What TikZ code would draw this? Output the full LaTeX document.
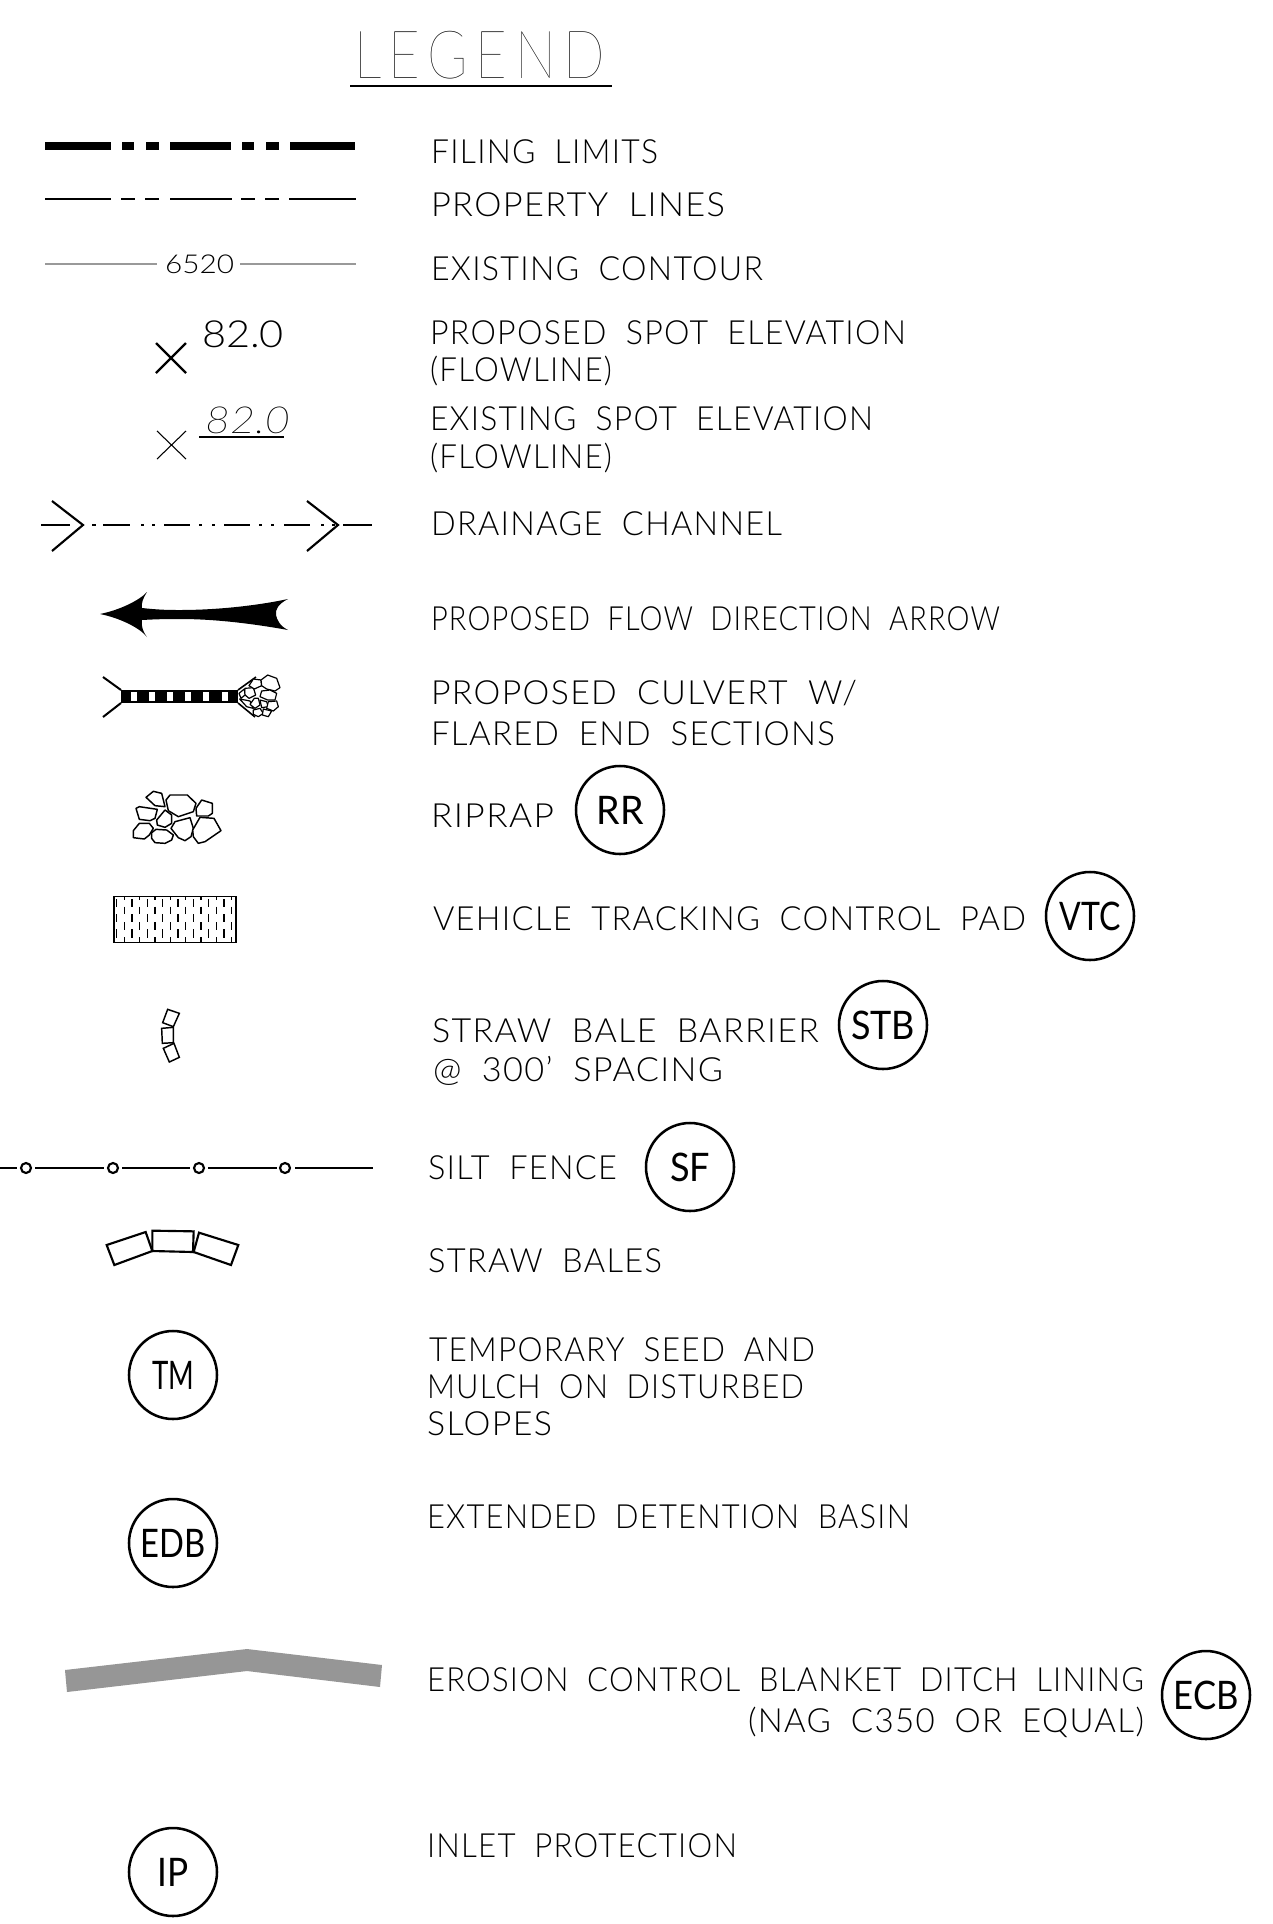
\documentclass[tikz,border=0pt]{standalone}
\usepackage{fontspec}
\usepackage{graphicx}
\setmainfont[LetterSpace=4]{Lato Light}
\newfontfamily\legfont[LetterSpace=14]{Lato Thin}
\newfontfamily\circfont{Lato}
\newfontfamily\numfont{Lato Light}
\newfontfamily\numitfont[ItalicFont={Lato Thin Italic}]{Lato Thin}
\newsavebox\lblbox
\newcommand\lblfit[3]{% width(px), font, text
  \sbox\lblbox{#2#3}%
  \pgfmathsetmacro\lblr{(#1*0.75)/\the\wd\lblbox}%
  \scalebox{\lblr}[1]{\usebox\lblbox}}
\newcommand\lbl[5]{%
  \node[anchor=base west,inner sep=0pt,outer sep=0pt] (#1) at (#2,#3) {\lblfit{#4}{\fontsize{25}{25}\selectfont\spaceskip=.6em\relax}{#5}};}
\newcommand\lblgen[6]{%
  \node[anchor=base west,inner sep=0pt,outer sep=0pt] (#1) at (#2,#3) {\lblfit{#4}{#5}{#6}};}
\newcommand\circlbl[5]{%
  \node[tagcircle] (#1) at (#2,#3) {\lblfit{#4}{\circfont\fontsize{29.5}{29.5}\selectfont}{#5}};}
\tikzset{
  tagcircle/.style={circle,draw=black,line width=1.9pt,minimum size=66pt,inner sep=0pt},
  stone/.style={draw=black,line width=1.1pt,line join=round,fill=white}
}
\begin{document}
\begin{tikzpicture}[x=0.75pt,y=-0.75pt]
\useasboundingbox (0,0) rectangle (1273,1924);
\fill[white] (0,0) rectangle (1273,1924);
% title
\lblgen{legend}{354}{78}{251}{\legfont\fontsize{50}{50}\selectfont}{LEGEND}
\coordinate (ulA) at (350,86); \coordinate (ulB) at (612,86);
\draw[line width=1.7pt] (ulA) -- (ulB);
% texts
\lbl{t1}{431}{163}{227}{FILING LIMITS}
\lbl{t2}{431}{216}{294}{PROPERTY LINES}
\lbl{t3}{431}{280}{332}{EXISTING CONTOUR}
\lbl{t4}{430}{344}{476}{PROPOSED SPOT ELEVATION}
\lbl{t4b}{430}{381}{182}{(FLOWLINE)}
\lbl{t5}{430}{430}{443}{EXISTING SPOT ELEVATION}
\lbl{t5b}{430}{468}{182}{(FLOWLINE)}
\lbl{t6}{431}{535}{351}{DRAINAGE CHANNEL}
\lbl{t7}{431}{630}{569}{PROPOSED FLOW DIRECTION ARROW}
\lbl{t8}{431}{704}{426}{PROPOSED CULVERT W/}
\lbl{t8b}{431}{745}{404}{FLARED END SECTIONS}
\lbl{t9}{431}{827}{123}{RIPRAP}
\lbl{t10}{433}{930}{593}{VEHICLE TRACKING CONTROL PAD}
\lbl{t11}{432}{1042}{387}{STRAW BALE BARRIER}
\lbl{t11b}{433}{1081}{290}{@ 300' SPACING}
\lbl{t12}{428}{1179}{189}{SILT FENCE}
\lbl{t13}{428}{1272}{234}{STRAW BALES}
\lbl{t14}{429}{1361}{386}{TEMPORARY SEED AND}
\lbl{t14b}{427}{1398}{377}{MULCH ON DISTURBED}
\lbl{t14c}{427}{1435}{125}{SLOPES}
\lbl{t15}{427}{1528}{483}{EXTENDED DETENTION BASIN}
\lbl{t16}{427}{1691}{717}{EROSION CONTROL BLANKET DITCH LINING}
\lbl{t16b}{748}{1732}{396}{(NAG C350 OR EQUAL)}
\lbl{t17}{427}{1857}{310}{INLET PROTECTION}
% circle tags
\circlbl{rr}{620}{810}{47}{RR}
\circlbl{vtc}{1090}{916}{61}{VTC}
\circlbl{stb}{883}{1025}{64}{STB}
\circlbl{sf}{690}{1167}{40}{SF}
\circlbl{tm}{173}{1375}{42}{TM}
\circlbl{edb}{173}{1543}{65}{EDB}
\circlbl{ecb}{1206}{1695}{65}{ECB}
\circlbl{ip}{173}{1872}{31}{IP}
% filing limits
\foreach \a/\b in {45/111,122/134,146/159,170/231,242/254,266/279,290/355}
  \fill[black] (\a,142) rectangle (\b,150);
% property
\foreach \a/\b in {45/111,121/135,145/159,170/232,241/255,265/279,289/356}
  \draw[line width=2pt] (\a,199) -- (\b,199);
% contour
\foreach \a/\b in {45/157,240/356}
  \draw[line width=1.7pt,color=black!40] (\a,264) -- (\b,264);
\lblgen{c6520}{165}{273}{69}{\numfont\fontsize{19.5}{20}\selectfont}{6520}
% spot elevations
\draw[line width=1.6pt] (156,343) -- (186,373) (186,343) -- (156,373);
\lblgen{sp1}{202}{347}{82}{\numfont\fontsize{28}{28}\selectfont}{82.0}
\draw[line width=0.8pt] (157,431) -- (186,459) (186,431) -- (157,459);
\lblgen{sp2}{205}{433}{85}{\numitfont\itshape\fontsize{28}{28}\selectfont}{82.0}
\draw[line width=1pt] (199,437) -- (284,437);
% drainage channel
\foreach \a/\b in {41/70,92/96,103/130,141/144,152/155,164/190,199/202,212/215,224/250,259/262,271/274,284/310,321/324,332/335,343/372}
  \draw[line width=1.6pt] (\a,525) -- (\b,525);
\draw[line width=1.6pt,line join=miter] (52,501) -- (83,525) -- (52,551);
\draw[line width=1.6pt,line join=miter] (307,501) -- (338,525) -- (307,551);
% flow arrow
\fill[black] (100,614) .. controls (120,610) and (140,600) .. (147,592)
  .. controls (143,598) and (141,604) .. (142,608)
  .. controls (160,610) and (170,610) .. (180,610)
  .. controls (220,610) and (260,605) .. (288,599)
  .. controls (278,604) and (275,610) .. (276,615)
  .. controls (277,620) and (280,626) .. (288,630)
  .. controls (260,625) and (220,619) .. (180,619)
  .. controls (170,619) and (160,619) .. (142,620)
  .. controls (141,626) and (143,632) .. (147,637)
  .. controls (140,628) and (120,618) .. (100,614) -- cycle;
% culvert
\draw[line width=1.5pt] (103,677) -- (121,690) (103,717) -- (121,703);
\fill[black] (121,690) rectangle (238,703);
\foreach \a/\b in {131/137,149/155,167/173,185/191,203/209,222/228}
  \fill[white] (\a,692) rectangle (\b,701);
\draw[line width=1.2pt] (238,690) -- (256,677) (238,703) -- (255,717);
\begin{scope}[shift={(225,665)},x=0.25pt,y=-0.25pt,every path/.style={draw=black,line width=0.9pt,fill=white,line join=round}]
\path (60,70)--(85,68)--(92,90)--(72,100)--(58,88)--cycle;
\path (42,85)--(58,72)--(60,90)--(48,100)--cycle;
\path (44,102)--(60,105)--(75,108)--(85,130)--(65,125)--cycle;
\path (85,42)--(108,45)--(110,62)--(88,72)--(72,62)--cycle;
\path (108,45)--(128,30)--(155,40)--(165,68)--(150,78)--(125,72)--(110,62)--cycle;
\path (110,78)--(135,75)--(155,85)--(150,105)--(128,105)--(105,95)--cycle;
\path (88,100)--(100,100)--(105,120)--(90,130)--(75,118)--cycle;
\path (105,105)--(125,110)--(130,125)--(110,128)--cycle;
\path (130,110)--(155,108)--(160,125)--(145,138)--(125,130)--cycle;
\path (85,135)--(105,130)--(115,145)--(100,155)--(85,148)--cycle;
\path (115,132)--(140,138)--(130,155)--(112,150)--cycle;
\end{scope}
% riprap, pad and small bales
\begin{scope}[shift={(90,740)},x=0.25pt,y=-0.25pt]
\draw[stone] (168,172)--(190,154)--(215,160)--(225,200)--(195,197)--cycle;
\draw[stone] (228,180)--(240,165)--(292,165)--(318,190)--(310,215)--(265,230)--(235,212)--cycle;
\draw[stone] (318,205)--(335,180)--(367,190)--(367,220)--(355,228)--(320,228)--cycle;
\draw[stone] (138,205)--(148,200)--(202,208)--(195,235)--(180,242)--(148,238)--cycle;
\draw[stone] (200,240)--(225,210)--(245,225)--(245,250)--(225,262)--(202,255)--cycle;
\draw[stone] (130,272)--(148,250)--(178,250)--(190,265)--(178,285)--(163,297)--(130,293)--cycle;
\draw[stone] (185,278)--(198,268)--(230,270)--(250,285)--(245,300)--(225,310)--(195,308)--(185,295)--cycle;
\draw[stone] (243,265)--(255,245)--(300,233)--(310,265)--(303,290)--(285,302)--(265,293)--cycle;
\draw[stone] (308,270)--(330,232)--(372,235)--(393,272)--(345,305)--(325,310)--(310,290)--cycle;
\draw[line width=1.1pt] (72,470) rectangle (438,608);
\foreach \k in {0,...,7}{
  \pgfmathsetmacro\xa{103+46*\k}
  \pgfmathsetmacro\xb{80+46*\k}
  \draw[line width=0.8pt] (\xa,470)--(\xa,480) (\xa,500)--(\xa,522) (\xa,546)--(\xa,570) (\xa,592)--(\xa,608);
  \draw[line width=0.8pt] (\xb,477)--(\xb,500) (\xb,522)--(\xb,546) (\xb,568)--(\xb,594);
}
\draw[line width=1.1pt,line join=miter] (233,808)--(268,820)--(250,860)--(218,848)--cycle;
\draw[line width=1.1pt,line join=miter] (215,865)--(250,862)--(250,908)--(217,910)--cycle;
\draw[line width=1.1pt,line join=miter] (220,925)--(252,910)--(268,952)--(238,966)--cycle;
\end{scope}
% silt fence
\foreach \a/\b in {0/17,35/104,122/190,208/277,295/373}
  \draw[line width=1.6pt] (\a,1168) -- (\b,1168);
\foreach \c in {26,113,199,285}
  \draw[line width=1.6pt] (\c,1168) circle[radius=5];
% straw bales
\begin{scope}[shift={(0,1130)},x=0.25pt,y=-0.25pt]
\draw[line width=1.6pt,line join=miter] (320,345)--(437,306)--(457,363)--(343,405)--cycle;
\draw[line width=1.6pt,line join=miter] (457,302)--(581,304)--(579,366)--(457,363)--cycle;
\draw[line width=1.6pt,line join=miter] (597,308)--(715,345)--(693,405)--(581,366)--cycle;
\end{scope}
% blanket
\fill[color=black!41] (65,1670) -- (247,1649) -- (382,1665) -- (380,1687) -- (247,1671) -- (67,1692) -- cycle;
\end{tikzpicture}
\end{document}
